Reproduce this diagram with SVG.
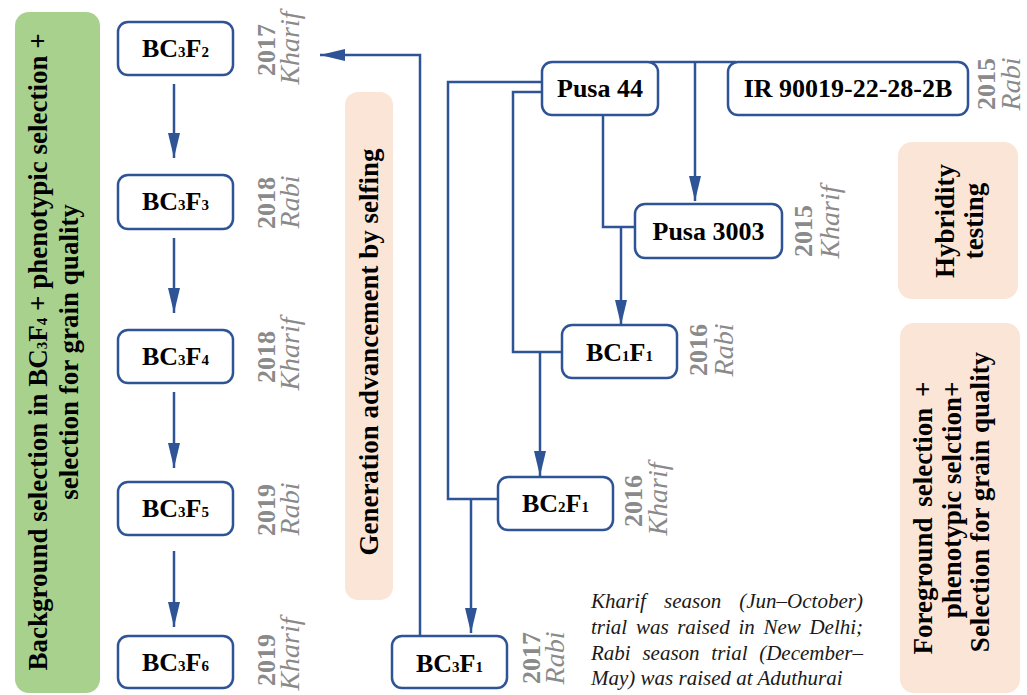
<svg xmlns="http://www.w3.org/2000/svg" width="1027" height="695" viewBox="0 0 1027 695">
<style>
.box{fill:#fff;stroke:#2F5496;stroke-width:2.5}
.lbl{font-family:"Liberation Serif",serif;font-weight:bold;font-size:26px;fill:#000;text-anchor:middle}
.sub{font-size:15px}
.yr{font-family:"Liberation Serif",serif;font-weight:bold;font-size:26px;fill:#8a8a8a;text-anchor:middle}
.ssn{font-family:"Liberation Serif",serif;font-style:italic;font-size:28px;fill:#8a8a8a;text-anchor:middle}
.side{font-family:"Liberation Serif",serif;font-weight:bold;font-size:27px;fill:#000;text-anchor:middle}
.conn{fill:none;stroke:#2F5496;stroke-width:2.5}
.note{font-family:"Liberation Serif",serif;font-style:italic;font-size:21px;fill:#1a1a1a}
</style>
<defs>
<marker id="ah" markerUnits="userSpaceOnUse" markerWidth="26" markerHeight="12" refX="25" refY="6" orient="auto">
<path d="M0,0 L25,6 L0,12 z" fill="#2F5496"/>
</marker>
</defs>

<g id="bg-green">
<rect x="15" y="12" width="85" height="681" rx="14" fill="#A9D18E"/>
<text class="side" transform="translate(47,352) rotate(-90)">Background selection in BC<tspan class="sub">3</tspan>F<tspan class="sub">4</tspan> + phenotypic selection +</text>
<text class="side" transform="translate(78,352) rotate(-90)">selection for grain quality</text>
</g>

<g id="bg-generation">
<rect x="345" y="92" width="48" height="508" rx="13" fill="#FBE5D6"/>
<text class="side" transform="translate(378,352) rotate(-90)">Generation advancement by selfing</text>
</g>

<g id="bg-hybridity">
<rect x="898" y="142" width="120" height="157" rx="14" fill="#FBE5D6"/>
<text class="side" transform="translate(954,221) rotate(-90)">Hybridity</text>
<text class="side" transform="translate(983,221) rotate(-90)">testing</text>
</g>

<g id="bg-foreground">
<rect x="900" y="323" width="120" height="370" rx="14" fill="#FBE5D6"/>
<text class="side" transform="translate(932,518) rotate(-90)" word-spacing="4">Foreground selection +</text>
<text class="side" transform="translate(961,500) rotate(-90)">phenotypic selction+</text>
<text class="side" transform="translate(989,502) rotate(-90)">Selection for grain quality</text>
</g>

<g id="connectors">
<path class="conn" d="M174,84 V158" marker-end="url(#ah)"/>
<path class="conn" d="M174,238 V313" marker-end="url(#ah)"/>
<path class="conn" d="M174,392 V468" marker-end="url(#ah)"/>
<path class="conn" d="M174,551 V627" marker-end="url(#ah)"/>
<path class="conn" d="M420,636 V55 H320" marker-end="url(#ah)"/>
<path class="conn" d="M542,82 H448 V499 H498"/>
<path class="conn" d="M542,92 H513 V352 H562"/>
<path class="conn" d="M603,115 V227 H635"/>
<path class="conn" d="M621,227 V325" marker-end="url(#ah)"/>
<path class="conn" d="M650,62 H736"/>
<path class="conn" d="M695,62 V201" marker-end="url(#ah)"/>
<path class="conn" d="M540,352 V476" marker-end="url(#ah)"/>
<path class="conn" d="M471,499 V633" marker-end="url(#ah)"/>
</g>

<g id="n-bc3f2">
<rect class="box" x="118" y="22" width="115" height="53" rx="10"/>
<text class="lbl" x="175.5" y="57">BC<tspan class="sub">3</tspan>F<tspan class="sub">2</tspan></text>
<text class="yr" transform="translate(275,50) rotate(-90)">2017</text>
<text class="ssn" transform="translate(299,48) rotate(-90)">Kharif</text>
</g>
<g id="n-bc3f3">
<rect class="box" x="118" y="175" width="115" height="54" rx="10"/>
<text class="lbl" x="175.5" y="210">BC<tspan class="sub">3</tspan>F<tspan class="sub">3</tspan></text>
<text class="yr" transform="translate(275,203) rotate(-90)">2018</text>
<text class="ssn" transform="translate(299,202) rotate(-90)">Rabi</text>
</g>
<g id="n-bc3f4">
<rect class="box" x="118" y="330" width="115" height="53" rx="10"/>
<text class="lbl" x="175.5" y="365">BC<tspan class="sub">3</tspan>F<tspan class="sub">4</tspan></text>
<text class="yr" transform="translate(275,357) rotate(-90)">2018</text>
<text class="ssn" transform="translate(299,354) rotate(-90)">Kharif</text>
</g>
<g id="n-bc3f5">
<rect class="box" x="118" y="482" width="115" height="53" rx="10"/>
<text class="lbl" x="175.5" y="517">BC<tspan class="sub">3</tspan>F<tspan class="sub">5</tspan></text>
<text class="yr" transform="translate(275,510) rotate(-90)">2019</text>
<text class="ssn" transform="translate(299,509) rotate(-90)">Rabi</text>
</g>
<g id="n-bc3f6">
<rect class="box" x="118" y="636" width="115" height="52" rx="10"/>
<text class="lbl" x="175.5" y="671">BC<tspan class="sub">3</tspan>F<tspan class="sub">6</tspan></text>
<text class="yr" transform="translate(275,660) rotate(-90)">2019</text>
<text class="ssn" transform="translate(299,654) rotate(-90)">Kharif</text>
</g>

<g id="n-bc3f1">
<rect class="box" x="392" y="636" width="115" height="52" rx="10"/>
<text class="lbl" x="449.5" y="672">BC<tspan class="sub">3</tspan>F<tspan class="sub">1</tspan></text>
<text class="yr" transform="translate(540,658) rotate(-90)">2017</text>
<text class="ssn" transform="translate(564,658) rotate(-90)">Rabi</text>
</g>
<g id="n-bc2f1">
<rect class="box" x="498" y="477" width="115" height="53" rx="10"/>
<text class="lbl" x="555.5" y="512">BC<tspan class="sub">2</tspan>F<tspan class="sub">1</tspan></text>
<text class="yr" transform="translate(642,501) rotate(-90)">2016</text>
<text class="ssn" transform="translate(667,499) rotate(-90)">Kharif</text>
</g>
<g id="n-bc1f1">
<rect class="box" x="562" y="325" width="115" height="53" rx="10"/>
<text class="lbl" x="619.5" y="361">BC<tspan class="sub">1</tspan>F<tspan class="sub">1</tspan></text>
<text class="yr" transform="translate(707,350) rotate(-90)">2016</text>
<text class="ssn" transform="translate(733,350) rotate(-90)">Rabi</text>
</g>
<g id="n-pusa3003">
<rect class="box" x="635" y="204" width="147" height="54" rx="10"/>
<text class="lbl" x="708.5" y="240">Pusa 3003</text>
<text class="yr" transform="translate(812,231) rotate(-90)">2015</text>
<text class="ssn" transform="translate(839,222) rotate(-90)">Kharif</text>
</g>
<g id="n-pusa44">
<rect class="box" x="542" y="62" width="116" height="53" rx="10"/>
<text class="lbl" x="600" y="97">Pusa 44</text>
</g>
<g id="n-ir">
<rect class="box" x="728" y="62" width="240" height="53" rx="10"/>
<text class="lbl" x="848" y="97">IR 90019-22-28-2B</text>
<text class="yr" transform="translate(995,84) rotate(-90)">2015</text>
<text class="ssn" transform="translate(1020,84) rotate(-90)">Rabi</text>
</g>

<g id="note">
<text class="note" y="608"><tspan x="591">Kharif</tspan><tspan x="664">season</tspan><tspan x="739.3">(Jun–October)</tspan></text>
<text class="note" y="634"><tspan x="591">trial</tspan><tspan x="635.9">was</tspan><tspan x="677.2">raised</tspan><tspan x="738.4">in</tspan><tspan x="763.4">New</tspan><tspan x="809.4">Delhi;</tspan></text>
<text class="note" y="660"><tspan x="591">Rabi</tspan><tspan x="642.4">season</tspan><tspan x="711.3">trial</tspan><tspan x="759.2">(December–</tspan></text>
<text class="note" x="591" y="685">May) was raised at Aduthurai</text>
</g>
</svg>
